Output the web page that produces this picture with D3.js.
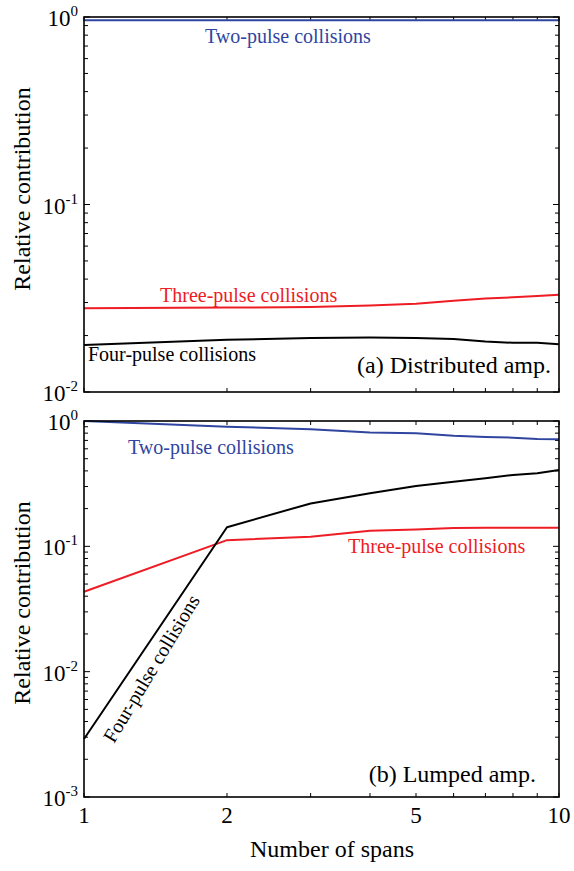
<!DOCTYPE html>
<html>
<head>
<meta charset="utf-8">
<script src="https://cdn.jsdelivr.net/npm/d3@7/dist/d3.min.js"></script>
<style>
  body { margin: 0; background: #fff; }
  svg#chart text, svg#chart tspan { font-family: "Liberation Serif", "Times New Roman", Tinos, serif !important; }
</style>
</head>
<body>
<svg id="chart" width="574" height="871" style="display:block"></svg>
<script>
// ---- data ----
const spans = [1, 2, 3, 4, 5, 6, 7, 8, 9, 10];
// (a) Distributed amplification
const distTwo   = [0.96, 0.96, 0.96, 0.96, 0.96, 0.96, 0.96, 0.96, 0.96, 0.96];
const distThree = [0.0280, 0.0282, 0.0284, 0.0289, 0.0296, 0.0307, 0.0315, 0.0320, 0.0325, 0.0330];
const distFour  = [0.0178, 0.0190, 0.0194, 0.0195, 0.0194, 0.0192, 0.0186, 0.0183, 0.0183, 0.0180];
// (b) Lumped amplification
const lumpTwo   = [1.00, 0.90, 0.86, 0.81, 0.797, 0.763, 0.745, 0.736, 0.718, 0.715];
const lumpThree = [0.0434, 0.112, 0.119, 0.133, 0.136, 0.140, 0.141, 0.141, 0.141, 0.141];
const lumpFour  = [0.0029, 0.142, 0.22, 0.265, 0.303, 0.328, 0.349, 0.371, 0.383, 0.406];
const xTickLabels = [1, 2, 5, 10];
const topYTicks = [1, 0.1, 0.01];
const botYTicks = [1, 0.1, 0.01, 0.001];

// ---- layout ----
const FONT = "'Liberation Serif', 'Times New Roman', Tinos, serif";
const svg = d3.select("#chart");
const L = 84, R = 559;
const colors = { two: "#2f45a0", three: "#ee1c24", four: "#000000" };
const x = d3.scaleLog().domain([1, 10]).range([L, R]);

function panel(y0, y1, domain, yTickVals, series) {
  const y = d3.scaleLog().domain(domain).range([y1, y0]);
  const g = svg.append("g");
  const tl = 4;
  x.ticks().forEach(t => {
    g.append("line").attr("x1", x(t)).attr("x2", x(t)).attr("y1", y1).attr("y2", y1 - tl)
      .attr("stroke", "#000").attr("stroke-width", 1);
    g.append("line").attr("x1", x(t)).attr("x2", x(t)).attr("y1", y0).attr("y2", y0 + tl)
      .attr("stroke", "#000").attr("stroke-width", 1);
  });
  y.ticks().forEach(t => {
    const major = Math.abs(Math.log10(t) - Math.round(Math.log10(t))) < 1e-9;
    const len = major ? 6 : 4;
    g.append("line").attr("x1", L).attr("x2", L + len).attr("y1", y(t)).attr("y2", y(t))
      .attr("stroke", "#000").attr("stroke-width", 1);
    g.append("line").attr("x1", R).attr("x2", R - len).attr("y1", y(t)).attr("y2", y(t))
      .attr("stroke", "#000").attr("stroke-width", 1);
  });
  yTickVals.forEach(t => {
    const e = Math.round(Math.log10(t));
    const txt = g.append("text").attr("x", L - 6).attr("y", y(t) + 9)
      .attr("text-anchor", "end").attr("font-family", FONT).attr("font-size", 23).attr("fill", "#000");
    txt.append("tspan").text("10");
    txt.append("tspan").attr("dy", -10).attr("font-size", 15).text(String(e));
  });
  const line = d3.line().x((d, i) => x(spans[i])).y(d => y(d));
  series.forEach(s => {
    g.append("path").datum(s.values).attr("d", line).attr("fill", "none")
      .attr("stroke", s.color).attr("stroke-width", 2).attr("stroke-linejoin", "round");
  });
  g.append("rect").attr("x", L).attr("y", y0).attr("width", R - L).attr("height", y1 - y0)
    .attr("fill", "none").attr("stroke", "#000").attr("stroke-width", 1.6);
  return { g, y };
}

const panelA = panel(17, 392, [0.01, 1], topYTicks, [
  { values: distThree, color: colors.three },
  { values: distFour, color: colors.four },
  { values: distTwo, color: colors.two }
]);
const panelB = panel(421, 797, [0.001, 1], botYTicks, [
  { values: lumpThree, color: colors.three },
  { values: lumpFour, color: colors.four },
  { values: lumpTwo, color: colors.two }
]);

function label(txt, xp, yp, color, size, anchor) {
  svg.append("text").attr("x", xp).attr("y", yp).attr("fill", color).attr("font-family", FONT)
    .attr("font-size", size).attr("text-anchor", anchor || "start").text(txt);
}
label("Two-pulse collisions", 205, 43, colors.two, 20);
label("Three-pulse collisions", 160, 302, colors.three, 20);
label("Four-pulse collisions", 88, 361, colors.four, 20);
label("(a) Distributed amp.", 551, 373, "#000", 24, "end");

label("Two-pulse collisions", 128, 454, colors.two, 20);
label("Three-pulse collisions", 348, 553, colors.three, 20);
label("(b) Lumped amp.", 536, 782, "#000", 24, "end");
svg.append("text").attr("transform", "translate(114,744) rotate(-59)").attr("font-family", FONT)
  .attr("font-size", 20).attr("fill", "#000").text("Four-pulse collisions");

xTickLabels.forEach(t => {
  svg.append("text").attr("x", x(t)).attr("y", 823).attr("text-anchor", "middle").attr("font-family", FONT)
    .attr("font-size", 23).attr("fill", "#000").text(String(t));
});
svg.append("text").attr("x", 332).attr("y", 857).attr("text-anchor", "middle").attr("font-family", FONT)
  .attr("font-size", 24).attr("fill", "#000").text("Number of spans");
svg.append("text").attr("transform", "translate(30,189) rotate(-90)").attr("text-anchor", "middle").attr("font-family", FONT)
  .attr("font-size", 24).attr("fill", "#000").text("Relative contribution");
svg.append("text").attr("transform", "translate(30,603) rotate(-90)").attr("text-anchor", "middle").attr("font-family", FONT)
  .attr("font-size", 24).attr("fill", "#000").text("Relative contribution");
</script>
</body>
</html>
